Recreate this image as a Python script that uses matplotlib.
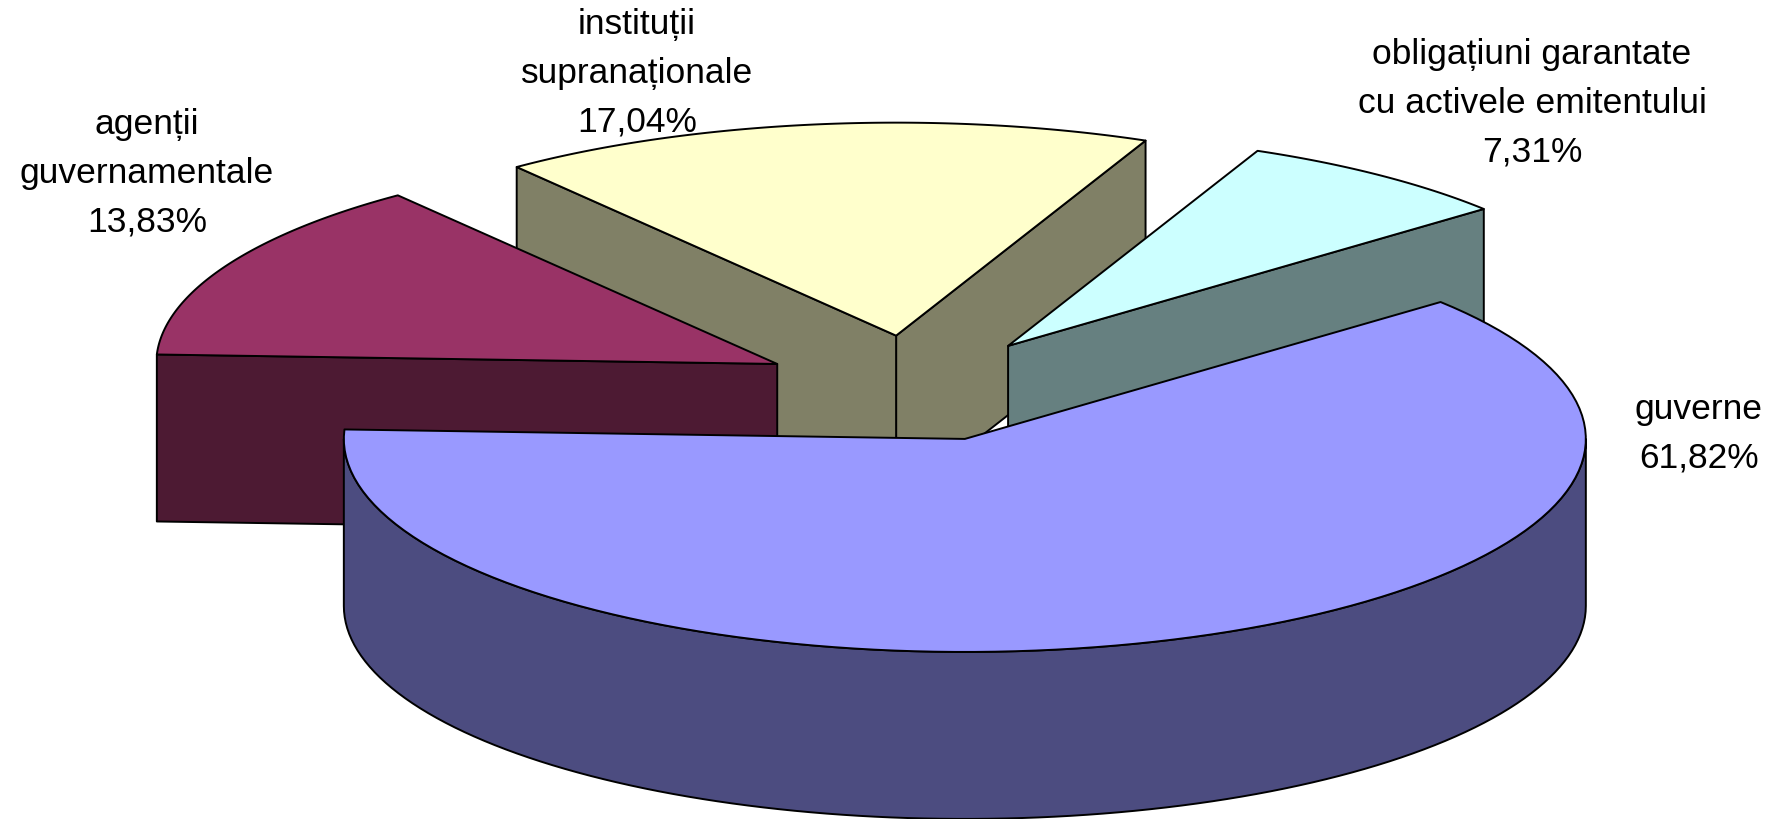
import numpy as np
import matplotlib
matplotlib.use("Agg")
import matplotlib.pyplot as plt
from matplotlib.patches import Polygon

# Portfolio split by issuer type (percent)
categories = ["guverne", "agenții\nguvernamentale", "instituții\nsupranaționale",
              "obligațiuni garantate\ncu activele emitentului"]
shares = [61.82, 13.83, 17.04, 7.31]

top_colors = ["#9999FF", "#993366", "#FFFFCC", "#CCFFFF"]
side_colors = ["#4C4C80", "#4D1A33", "#808066", "#668080"]

# label anchors: centre x / last-line baseline y, in pixels
label_x = [1699, 147, 637, 1532]
label_y = [468, 232, 132, 162]

W, H = 1781, 820
cx, cy = 915, 389.5      # pie centre
rx, ry = 621, 213        # projected radii of the top face
depth = 167              # thickness of the pie
explode = 0.25
start = 40.0             # first slice starts here, slices go clockwise

fig = plt.figure(figsize=(W / 100, H / 100), dpi=100)
ax = fig.add_axes([0, 0, 1, 1])
ax.set_xlim(0, W)
ax.set_ylim(H, 0)
ax.axis("off")


def rim(ox, oy, a0, a1, z=0.0, n=120):
    t = np.radians(np.linspace(a0, a1, n))
    return np.column_stack([ox + rx * np.cos(t), oy - ry * np.sin(t) + z])


def patch(pts, color):
    ax.add_patch(Polygon(pts, closed=True, facecolor=color, edgecolor="black",
                         linewidth=1.4, joinstyle="round"))


slices = []
hi = start
for i, v in enumerate(shares):
    span = v / sum(shares) * 360.0
    lo = hi - span
    mid = np.radians((lo + hi) / 2)
    ox = cx + explode * rx * np.cos(mid)
    oy = cy - explode * ry * np.sin(mid)
    slices.append((oy, i, lo, hi, ox))
    hi = lo

# back to front
for oy, i, lo, hi, ox in sorted(slices):
    apex = np.array([[ox, oy]])
    down = np.array([0, depth])

    # radial cut faces that face the viewer
    for ang, show in ((lo, np.cos(np.radians(lo)) > 0), (hi, np.cos(np.radians(hi)) < 0)):
        if show:
            p = rim(ox, oy, ang, ang, n=1)
            patch(np.vstack([apex, p, p + down, apex + down]), side_colors[i])

    # front part of the outer wall
    for k in (-1, 0, 1):
        s0 = max(lo, -180 + 360 * k)
        s1 = min(hi, 360 * k)
        if s0 < s1:
            topc = rim(ox, oy, s0, s1)
            patch(np.vstack([topc, (topc + down)[::-1]]), side_colors[i])

    # top face
    patch(np.vstack([apex, rim(ox, oy, lo, hi)]), top_colors[i])

for i, v in enumerate(shares):
    pct = f"{v:.2f}".replace(".", ",") + "%"
    ax.text(label_x[i], label_y[i], f"{categories[i]}\n{pct}", ha="center",
            va="baseline", multialignment="center", fontsize=25.5, linespacing=1.62,
            family=["Liberation Sans", "DejaVu Sans"], color="black")

fig.savefig("out.png", dpi=100)
